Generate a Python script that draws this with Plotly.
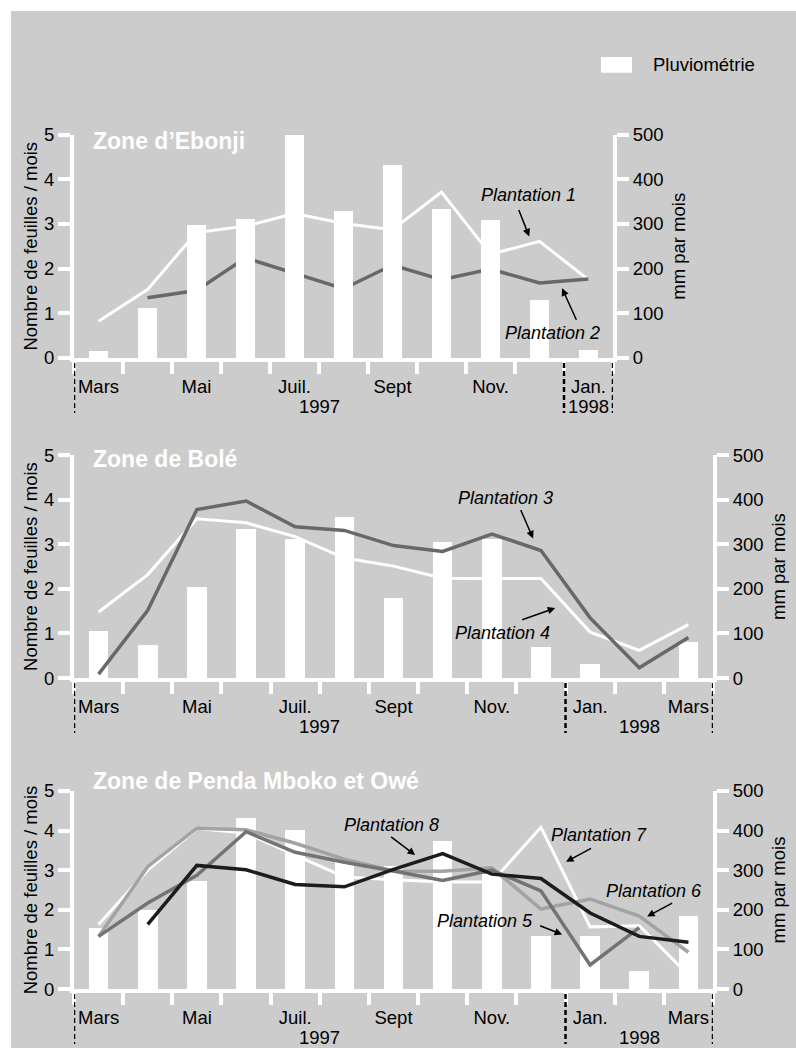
import plotly.graph_objects as go

W, H = 796, 1064
FONT = "Liberation Sans, Arial, Helvetica, sans-serif"

# Months shown on the axes (one label every two months) and their years
month_labels = ["Mars", "", "Mai", "", "Juil.", "", "Sept", "", "Nov.", "", "Jan.", "", "Mars"]
month_years = [1997] * 10 + [1998] * 3

# Zone d'Ebonji (mars 1997 - janv. 1998)
ebonji_pluie = [16, 113, 299, 312, 500, 329, 433, 334, 310, 132, 18]
ebonji_p1 = [0.82, 1.53, 2.81, 2.95, 3.23, 3.01, 2.87, 3.71, 2.32, 2.61, 1.75]
ebonji_p2 = [None, 1.35, 1.51, 2.24, 1.90, 1.55, 2.08, 1.75, 1.99, 1.68, 1.77]

# Zone de Bolé (mars 1997 - mars 1998)
bole_pluie = [106, 73, 205, 334, 312, 360, 180, 304, 311, 70, 32, 0, 81]
bole_p3 = [0.09, 1.52, 3.78, 3.97, 3.39, 3.31, 2.97, 2.84, 3.23, 2.86, 1.35, 0.23, 0.91]
bole_p4 = [1.48, 2.32, 3.57, 3.48, 3.17, 2.69, 2.51, 2.24, 2.23, 2.23, 1.03, 0.62, 1.20]

# Zone de Penda Mboko et Owé (mars 1997 - mars 1998)
penda_pluie = [154, 200, 274, 433, 402, 320, 312, 375, 291, 133, 133, 46, 185]
penda_p5 = [1.33, 2.17, 2.87, 3.97, 3.45, 3.20, 2.98, 2.74, 3.00, 2.48, 0.61, 1.55, None]
penda_p6 = [1.33, 3.09, 4.06, 4.02, 3.68, 3.28, 2.98, 2.97, 3.06, 2.02, 2.27, 1.84, 0.93]
penda_p7 = [1.63, 3.00, 4.05, 3.94, 3.38, 2.83, 2.76, 2.70, 2.70, 4.08, 1.57, 1.60, 0.36]
penda_p8 = [None, 1.63, 3.12, 3.01, 2.64, 2.58, 3.02, 3.42, 2.90, 2.79, 1.92, 1.33, 1.18]

WHITE = "#ffffff"
DARK = "#686868"
MID = "#737373"
LIGHT = "#a3a3a3"
BLACK = "#1c1c1c"


def px_x(p):
    return p / W


def px_y(p):
    return 1 - p / H


panels = [
    dict(
        box=(74, 613, 126, 354),
        title="Zone d’Ebonji", title_y=133,
        pluie=ebonji_pluie,
        lines=[(ebonji_p1, WHITE, 3), (ebonji_p2, DARK, 3.5)],
        bars_on_top=True,
        notes=[
            # label (x, y), arrow head (x, y), tail offset in px
            ("Plantation 1", (8.77, 3.64), (8.79, 2.72), (-11, -28)),
            ("Plantation 2", (9.26, 0.57), (9.46, 1.56), (15, 33)),
        ],
    ),
    dict(
        box=(74, 713, 453, 680.5),
        title="Zone de Bolé", title_y=457,
        pluie=bole_pluie,
        lines=[(bole_p4, WHITE, 3), (bole_p3, DARK, 3.5)],
        bars_on_top=False,
        notes=[
            ("Plantation 3", (8.27, 4.03), (8.84, 3.13), (-13, -30)),
            ("Plantation 4", (8.21, 1.02), (9.29, 1.57), (-34, 12)),
        ],
    ),
    dict(
        box=(74, 713, 795.6, 997.8),
        title="Zone de Penda Mboko et Owé", title_y=785,
        pluie=penda_pluie,
        lines=[(penda_p7, WHITE, 3), (penda_p6, LIGHT, 3.5),
               (penda_p5, MID, 3.5), (penda_p8, BLACK, 3.5)],
        bars_on_top=False,
        notes=[
            ("Plantation 8", (5.95, 4.15), (6.44, 3.38), (-25, -19)),
            ("Plantation 7", (10.18, 3.90), (9.51, 3.21), (26, -14)),
            ("Plantation 6", (11.30, 2.47), (11.16, 1.83), (26, -14)),
            ("Plantation 5", (7.86, 1.73), (9.43, 1.38), (-23, -9)),
        ],
    ),
]

axis_style = dict(
    showline=True, linecolor=WHITE, linewidth=4,
    ticks="outside", ticklen=12, tickwidth=4, tickcolor=WHITE,
    showgrid=False, zeroline=False, fixedrange=True,
    tickfont=dict(family=FONT, size=18.5, color="black"),
)

fig = go.Figure()
layout = dict(
    width=W, height=H,
    margin=dict(l=0, r=0, t=0, b=0),
    paper_bgcolor=WHITE, plot_bgcolor="rgba(0,0,0,0)",
    showlegend=False, bargap=0,
    font=dict(family=FONT, size=18, color="black"),
)
shapes = [
    dict(type="rect", xref="paper", yref="paper", layer="below",
         x0=px_x(11), x1=1, y0=px_y(1058), y1=1,
         fillcolor="#cccccc", line=dict(width=0)),
    # legend swatch
    dict(type="rect", xref="paper", yref="paper",
         x0=px_x(601), x1=px_x(632), y0=px_y(63), y1=px_y(47),
         fillcolor=WHITE, line=dict(width=0)),
]
annotations = [
    dict(text="Pluviométrie", xref="paper", yref="paper", x=px_x(651), y=px_y(55),
         xanchor="left", yanchor="middle", showarrow=False,
         font=dict(family=FONT, size=18.5, color="black")),
]

for k, p in enumerate(panels, start=1):
    left, right, top, bottom = p["box"]
    n = len(p["pluie"])
    months = list(range(n))
    xname = "xaxis" if k == 1 else f"xaxis{k}"
    xref = "x" if k == 1 else f"x{k}"
    base_id, over_id = 2 * k - 1, 2 * k
    base_name = "yaxis" if base_id == 1 else f"yaxis{base_id}"
    base_ref = "y" if base_id == 1 else f"y{base_id}"
    over_name, over_ref = f"yaxis{over_id}", f"y{over_id}"

    # the overlaying axis is drawn above the base one
    if p["bars_on_top"]:
        line_name, line_ref, bar_name, bar_ref = base_name, base_ref, over_name, over_ref
    else:
        line_name, line_ref, bar_name, bar_ref = over_name, over_ref, base_name, base_ref

    ydom = [px_y(bottom), px_y(top)]
    layout[xname] = dict(
        axis_style, domain=[px_x(left), px_x(right)], range=[-0.5, n - 0.5],
        anchor=base_ref, tickmode="array", tickvals=months,
        ticktext=month_labels[:n], ticks="", ticklabelstandoff=9,
        minor=dict(tickmode="array", tickvals=[i - 0.5 for i in range(n + 1)],
                   ticks="outside", ticklen=12, tickwidth=4, tickcolor=WHITE),
    )
    layout[line_name] = dict(
        axis_style, range=[0, 5], tickmode="linear", tick0=0, dtick=1,
        side="left", anchor=xref,
        title=dict(text="Nombre de feuilles / mois", standoff=3,
                   font=dict(family=FONT, size=18.5, color="black")),
    )
    layout[bar_name] = dict(
        axis_style, range=[0, 500], tickmode="linear", tick0=0, dtick=100,
        side="right", anchor=xref,
        title=dict(text="mm par mois", standoff=10,
                   font=dict(family=FONT, size=18.5, color="black")),
    )
    layout[base_name]["domain"] = ydom
    layout[over_name]["overlaying"] = base_ref

    fig.add_trace(go.Bar(x=months, y=p["pluie"], width=0.4, marker=dict(color=WHITE, line=dict(width=0)),
                         xaxis=xref, yaxis=bar_ref, name="Pluviométrie"))
    for values, color, width in p["lines"]:
        fig.add_trace(go.Scatter(x=months, y=values, mode="lines",
                                 line=dict(color=color, width=width),
                                 xaxis=xref, yaxis=line_ref, connectgaps=False))

    # zone title
    annotations.append(dict(text=p["title"], xref="paper", yref="paper",
                            x=px_x(91), y=px_y(p["title_y"]), xanchor="left", yanchor="middle",
                            showarrow=False,
                            font=dict(family=FONT, size=23, color=WHITE, weight="bold")))

    # years under the months, and dashed separators between years
    years = month_years[:n]
    bounds = [-0.5]
    for yr in sorted(set(years)):
        idx = [i for i, v in enumerate(years) if v == yr]
        annotations.append(dict(text=str(yr), xref=xref, yref="paper",
                                x=(idx[0] + idx[-1]) / 2, y=px_y(bottom + 49),
                                xanchor="center", yanchor="middle", showarrow=False,
                                font=dict(family=FONT, size=18.5, color="black")))
        bounds.append(idx[-1] + 0.5)
    for b in bounds:
        shapes.append(dict(type="line", xref=xref, yref="paper", x0=b, x1=b,
                           y0=px_y(bottom + 5), y1=px_y(bottom + 56),
                           line=dict(color="black", width=2.5, dash="5px,3px")))

    # plantation labels with arrows
    for text, (tx, ty), (hx, hy), (ax, ay) in p["notes"]:
        annotations.append(dict(text=text, xref=xref, yref=line_ref, x=tx, y=ty,
                                showarrow=False, xanchor="center", yanchor="middle",
                                font=dict(family=FONT, size=18, color="black", style="italic")))
        annotations.append(dict(text=" ", xref=xref, yref=line_ref, x=hx, y=hy,
                                ax=ax, ay=ay, showarrow=True, arrowhead=2, arrowsize=1,
                                arrowwidth=1.5, arrowcolor="black", borderpad=0,
                                font=dict(size=2)))

layout["shapes"] = shapes
layout["annotations"] = annotations
fig.update_layout(**layout)
fig.write_html("out.html")
